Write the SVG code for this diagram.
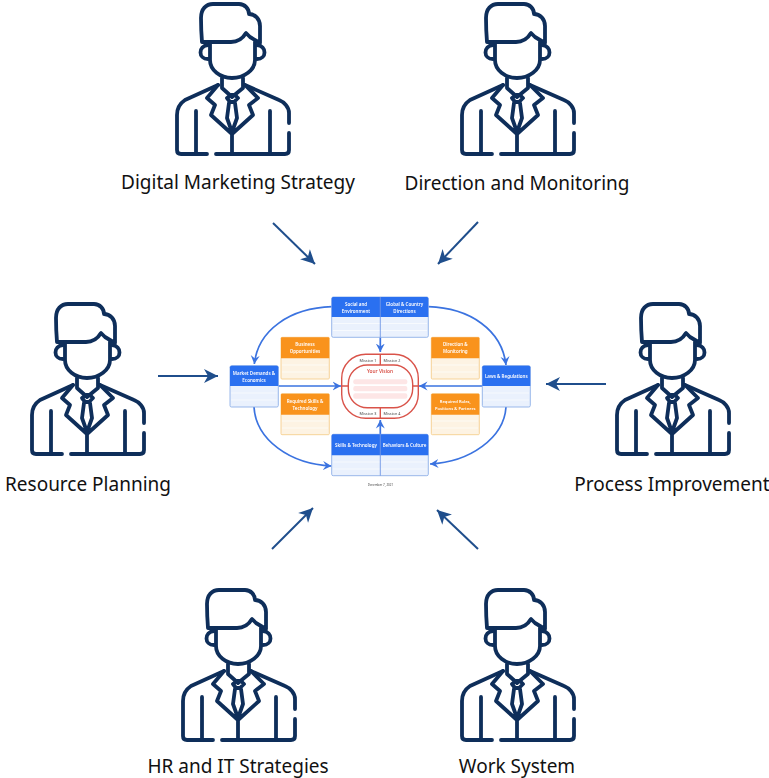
<svg xmlns="http://www.w3.org/2000/svg" width="769" height="778" viewBox="0 0 769 778">
<style>
.lbl{font:19px "Noto Sans",sans-serif;fill:#111;text-anchor:middle}
.ic{fill:none;stroke:#0e2e5a;stroke-width:3.8;stroke-linecap:round;stroke-linejoin:round}
.big{fill:none;stroke:#1f4e8c;stroke-width:2;marker-end:url(#bigA)}
.con{fill:none;stroke:#3b73e0;stroke-width:1.7;marker-end:url(#smA)}
.hb{fill:#2b6ff0}.hbb{fill:#eaf1fd;stroke:#8fb0e8;stroke-width:.9}
.ho{fill:#f9931f}.hob{fill:#fdf3e3;stroke:#f6cf8e;stroke-width:.9}
.s{stroke:#fff;stroke-width:.8;fill:none;opacity:.8}
.t{font:600 4.500px "Noto Sans",sans-serif;fill:#fff;text-anchor:middle}
.tm{font:3.800px "Noto Sans",sans-serif;fill:#444;text-anchor:middle}
.rd{fill:none;stroke:#d9534a;stroke-width:1.400}
</style>
<defs>
<filter id="soft" x="-5%" y="-5%" width="110%" height="110%"><feGaussianBlur stdDeviation="0.35"/></filter>
<marker id="bigA" markerUnits="userSpaceOnUse" markerWidth="18" markerHeight="18" refX="15" refY="8" orient="auto"><path d="M15 8L1 1L5 8L1 15Z" fill="#1f4e8c"/></marker>
<marker id="smA" markerUnits="userSpaceOnUse" markerWidth="11" markerHeight="11" refX="8.500" refY="5" orient="auto"><path d="M8.500 5L0 0.500L3 5L0 9.500Z" fill="#3b73e0"/></marker>
<g id="man" class="ic">
<path d="M37 42C36 30 36 18 36 18C36 9 41 4 48 4H74C80 4 84 9 84 14C90 14 95 19 95 26V43L85 37L81 33C78 38 74 42 66 42Z"/>
<path d="M45 42V60C45 70 55 78 67 78C79 78 90 70 90 60V42"/>
<path d="M43 45C33 46 33 59 43 59M92 45C102 46 102 59 92 59"/>
<path d="M57 78V88L67 97L78 88V78"/>
<path d="M53 85L20 100C14 104 12 109 12 115V150Q12 154 16 154H42M51 154H120Q124 154 124 150V133M124 123V113C124 107 119 102 114 100L80 85"/>
<path d="M42 98L50 105L46 115L67 134L88 115L84 105L93 98M53 85L42 98M80 85L93 98M62 98L66 95H70L73 98L69 102H65ZM64 103L62 118L67 132L72 118L70 103M67 134V154M31 111V154M105 111V154"/>
</g>
</defs>
<use id="p1" href="#man" x="165" y="0"/>
<use id="p2" href="#man" x="450" y="0"/>
<use id="p3" href="#man" x="20" y="300"/>
<use id="p4" href="#man" x="605" y="300"/>
<use id="p5" href="#man" x="171" y="586"/>
<use id="p6" href="#man" x="450" y="586"/>
<g id="labels">
<text class="lbl" x="238" y="189">Digital Marketing Strategy</text>
<text class="lbl" x="517" y="190">Direction and Monitoring</text>
<text class="lbl" x="88" y="491">Resource Planning</text>
<text class="lbl" x="672" y="491">Process Improvement</text>
<text class="lbl" x="238" y="773">HR and IT Strategies</text>
<text class="lbl" x="517" y="773">Work System</text>
</g>
<g id="connectors">
<path class="big" d="M273 223L315 264"/>
<path class="big" d="M478 222L438 264"/>
<path class="big" d="M158 376H218"/>
<path class="big" d="M606 384H546"/>
<path class="big" d="M272 549L313 508"/>
<path class="big" d="M478 549L437 510"/>
</g>
<g id="center" filter="url(#soft)">
<g id="inner-connectors">
<path class="con" d="M332 306.700C290 308 258 330 254.300 364"/>
<path class="con" d="M254 407C256 440 290 464 331.500 466"/>
<path class="con" d="M428.300 306.700C470 308 502 330 506 365"/>
<path class="con" d="M506 407C504 438 470 462 430 464"/>
<path class="con" d="M278.300 386H341"/>
<path class="con" d="M482.300 386H419"/>
<path class="con" d="M380.300 337V352"/>
<path class="con" d="M380.300 434V420"/>
</g>
<g id="n-social"><rect class="hbb" x="331.700" y="297" width="96.600" height="40.300" rx="1.500"/><path class="hb" d="M331.700 298.500Q331.700 297 333.200 297H426.800Q428.300 297 428.300 298.500V317H331.700Z"/><path class="s" d="M333 323.500H427M333 330.500H427"/><path d="M380.300 297V337" stroke="#6f97e4" stroke-width=".9"/><text class="t" x="356" y="305.500">Social and</text><text class="t" x="356" y="312.500">Environment</text><text class="t" x="404.500" y="305.500">Global &amp; Country</text><text class="t" x="404.500" y="312.500">Directions</text></g>
<g id="n-skills"><rect class="hbb" x="331.700" y="434.300" width="96.600" height="41.400" rx="1.500"/><path class="hb" d="M331.700 435.800Q331.700 434.300 333.200 434.300H426.800Q428.300 434.300 428.300 435.800V455.300H331.700Z"/><path class="s" d="M333 462H427M333 469H427"/><path d="M380.300 434.300V475.700" stroke="#6f97e4" stroke-width=".9"/><text class="t" x="356" y="447">Skills &amp; Technology</text><text class="t" x="404.500" y="447">Behaviors &amp; Culture</text></g>
<g id="n-market"><rect class="hbb" x="230" y="365.700" width="48.300" height="41.300" rx="1.500"/><path class="hb" d="M230 367.200Q230 365.700 231.500 365.700H276.800Q278.300 365.700 278.300 367.200V386H230Z"/><path class="s" d="M231 393H277M231 400H277"/><text class="t" x="254" y="374.500">Market Demands &amp;</text><text class="t" x="254" y="381.500">Economics</text></g>
<g id="n-laws"><rect class="hbb" x="482.300" y="365.700" width="48" height="41.300" rx="1.500"/><path class="hb" d="M482.300 367.200Q482.300 365.700 483.800 365.700H528.800Q530.300 365.700 530.300 367.200V386H482.300Z"/><path class="s" d="M483 393H529M483 400H529"/><text class="t" x="506.300" y="378">Laws &amp; Regulations</text></g>
<g id="n-opp"><rect class="hob" x="281" y="337.300" width="48.300" height="41.700" rx="1"/><path class="ho" d="M281 338.300Q281 337.300 282 337.300H328.300Q329.300 337.300 329.300 338.300V358.300H281Z"/><path class="s" d="M282 365H328M282 372H328"/><text class="t" x="305" y="346">Business</text><text class="t" x="305" y="353">Opportunities</text></g>
<g id="n-req"><rect class="hob" x="281" y="393.700" width="48.300" height="41" rx="1"/><path class="ho" d="M281 394.700Q281 393.700 282 393.700H328.300Q329.300 393.700 329.300 394.700V414.700H281Z"/><path class="s" d="M282 421H328M282 428H328"/><text class="t" x="305" y="402.500">Required Skills &amp;</text><text class="t" x="305" y="409.500">Technology</text></g>
<g id="n-dir"><rect class="hob" x="431.300" y="337.300" width="48" height="41.700" rx="1"/><path class="ho" d="M431.300 338.300Q431.300 337.300 432.300 337.300H478.300Q479.300 337.300 479.300 338.300V358.300H431.300Z"/><path class="s" d="M432 365H478M432 372H478"/><text class="t" x="455.300" y="346">Direction &amp;</text><text class="t" x="455.300" y="353">Monitoring</text></g>
<g id="n-roles"><rect class="hob" x="431.300" y="393.700" width="48" height="41" rx="1"/><path class="ho" d="M431.300 394.700Q431.300 393.700 432.300 393.700H478.300Q479.300 393.700 479.300 394.700V414.700H431.300Z"/><path class="s" d="M432 421H478M432 428H478"/><text class="t" x="455.300" y="402.500" style="font-size:4.100px">Required Roles,</text><text class="t" x="455.300" y="409.500" style="font-size:4.100px">Positions &amp; Partners</text></g>
<g id="n-vision">
<rect x="341.700" y="354.300" width="76.600" height="64" rx="24" fill="#fff" stroke="#d9534a" stroke-width="1.400"/>
<rect x="348.300" y="365" width="64.400" height="42.700" rx="19" fill="#fff" stroke="#d9534a" stroke-width="1.400"/>
<path class="rd" d="M380.300 354.300V365M380.300 407.700V418.300M341.700 386H348.300M412.700 386H418.300"/>
<rect x="353.300" y="379.300" width="54" height="5" rx="2" fill="#fde6e6"/>
<rect x="353.300" y="386" width="54" height="5.300" rx="2" fill="#fde6e6"/>
<rect x="353.300" y="393.300" width="54" height="5.400" rx="2" fill="#fde6e6"/>
<text class="tm" x="368" y="361.500">Mission 1</text><text class="tm" x="392" y="361.500">Mission 2</text>
<text class="tm" x="368" y="414.800">Mission 3</text><text class="tm" x="392" y="414.800">Mission 4</text>
<text class="tm" x="380" y="373" style="fill:#d9534a;font-size:4.800px;font-weight:600">Your Vision</text>
</g>
<text id="date" class="tm" x="380.500" y="485.500" style="font-size:3px">December 7, 2021</text>
</g>
</svg>
